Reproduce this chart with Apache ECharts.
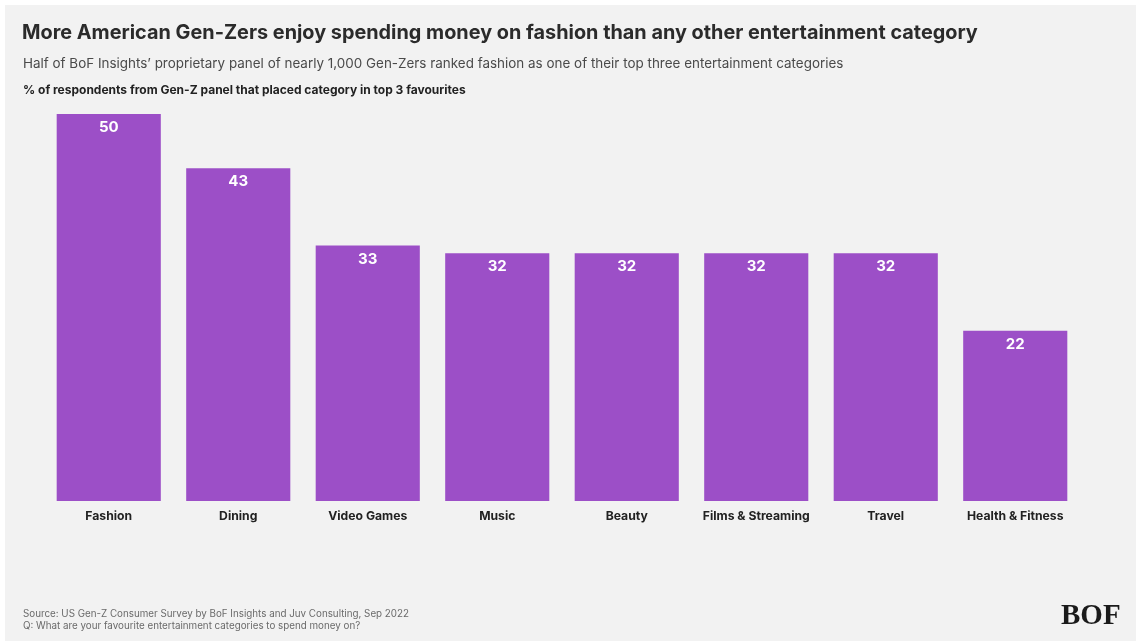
<!DOCTYPE html>
<html>
<head>
<meta charset="utf-8">
<script src="https://cdn.jsdelivr.net/npm/echarts@6/dist/echarts.min.js"></script>
<style>
  html, body { margin: 0; padding: 0; background: #ffffff; }
  #chart { width: 1136px; height: 641px; }
</style>
</head>
<body>
<div id="chart"></div>
<script>
// Share of Gen-Z panel placing each category in their top 3 favourites (%)
const categories = ['Fashion', 'Dining', 'Video Games', 'Music', 'Beauty', 'Films & Streaming', 'Travel', 'Health & Fitness'];
const shares = [50, 43, 33, 32, 32, 32, 32, 22];

const FONT = 'Inter, "Open Sans", "Noto Sans", sans-serif';
const chart = echarts.init(document.getElementById('chart'), null, { renderer: 'canvas' });

chart.setOption({
  backgroundColor: '#ffffff',
  animation: false,
  graphic: [
    { type: 'rect', left: 5, top: 5, shape: { width: 1131, height: 636 }, style: { fill: '#f2f2f2' }, silent: true },
    { type: 'text', left: 1061, top: 602, style: { text: 'BOF', font: 'bold 29px "Liberation Serif", "DejaVu Serif", serif', fill: '#1a1a1a' } }
  ],
  title: [
    { text: 'More American Gen-Zers enjoy spending money on fashion than any other entertainment category', left: 17, top: 18,
      textStyle: { fontFamily: FONT, fontSize: 19.85, fontWeight: 'bold', color: '#2b2b2b' } },
    { text: 'Half of BoF Insights\u2019 proprietary panel of nearly 1,000 Gen-Zers ranked fashion as one of their top three entertainment categories', left: 18, top: 52,
      textStyle: { fontFamily: FONT, fontSize: 13.45, fontWeight: 'normal', color: '#4a4a4a' } },
    { text: '% of respondents from Gen-Z panel that placed category in top 3 favourites', left: 18, top: 79,
      textStyle: { fontFamily: FONT, fontSize: 12, fontWeight: 'bold', color: '#222222' } },
    { text: 'Source: US Gen-Z Consumer Survey by BoF Insights and Juv Consulting, Sep 2022\nQ: What are your favourite entertainment categories to spend money on?', left: 18, top: 603,
      textStyle: { fontFamily: FONT, fontSize: 9.8, fontWeight: 'normal', color: '#6a6a6a', lineHeight: 12 } }
  ],
  grid: { left: 44, right: 56, top: 114, bottom: 140, containLabel: false },
  xAxis: {
    type: 'category',
    data: categories,
    axisLine: { show: false },
    axisTick: { show: false },
    axisLabel: { margin: 9, fontFamily: FONT, fontSize: 12.2, fontWeight: 'bold', color: '#222222', interval: 0 }
  },
  yAxis: {
    type: 'value',
    min: 0,
    max: 50,
    show: false,
    splitLine: { show: false }
  },
  series: [{
    type: 'bar',
    data: shares,
    barCategoryGap: '19.6%',
    itemStyle: { color: '#9c4fc7' },
    label: {
      show: true,
      position: 'insideTop',
      distance: 6,
      fontFamily: FONT,
      fontSize: 15,
      fontWeight: 'bold',
      color: '#ffffff'
    }
  }]
});
</script>
</body>
</html>
